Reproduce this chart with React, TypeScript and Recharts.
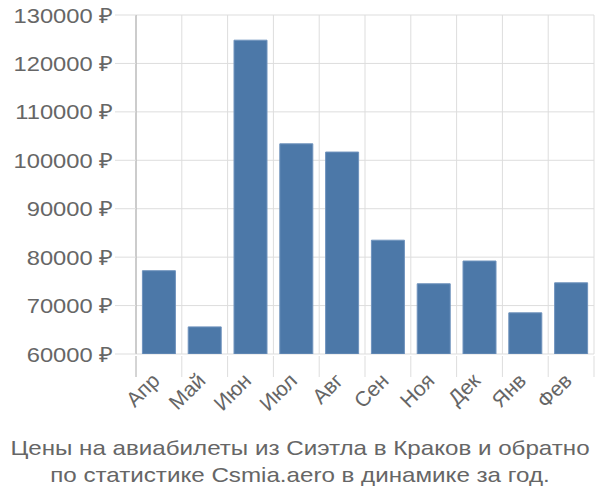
import { BarChart, Bar, XAxis, YAxis, CartesianGrid } from 'recharts';

// month labels along the bottom
const MONTHS = ['Апр', 'Май', 'Июн', 'Июл', 'Авг', 'Сен', 'Ноя', 'Дек', 'Янв', 'Фев'];
// average ticket price, rubles
const PRICES = [77200, 65600, 124800, 103400, 101700, 83500, 74500, 79200, 68500, 74700];
const Y_TICKS = [60000, 70000, 80000, 90000, 100000, 110000, 120000, 130000];

const DATA = MONTHS.map((m, i) => ({ month: m, price: PRICES[i] }));

const TEXT = '#666';
const GRID = '#ddd';
const AXIS = '#aaa';
const FONT = '"Liberation Sans", Arial, sans-serif';

const PLOT_TOP = 15;

function MonthTick(props: any) {
  const { x, y, payload, index } = props;
  const half = payload.offset ?? 0;
  const left = x - half;
  const right = x + half;
  const ax = x + 2;
  const ay = y + 18;
  return (
    <g>
      <line x1={left} x2={left} y1={y - 8} y2={y + 13} stroke={index === 0 ? AXIS : GRID} />
      {index === MONTHS.length - 1 && (
        <line x1={right} x2={right} y1={y - 8} y2={y + 13} stroke={GRID} />
      )}
      <text
        x={ax}
        y={ay}
        transform={`rotate(-45, ${ax}, ${ay})`}
        textAnchor="end"
        fill={TEXT}
        fontSize={21}
        fontFamily={FONT}
      >
        {payload.value}
      </text>
    </g>
  );
}

function PriceTick(props: any) {
  const { x, y, payload } = props;
  return (
    <text
      transform={`translate(${x}, ${y}) scale(1.13, 1)`}
      textAnchor="end"
      dy="0.36em"
      fill={TEXT}
      fontSize={21}
      fontFamily={FONT}
    >
      {`${payload.value} ₽`}
    </text>
  );
}

export default function App() {
  return (
    <div style={{ position: 'absolute', top: 0, left: 0, width: 600, height: 500, background: '#fff' }}>
      <BarChart
        width={600}
        height={420}
        data={DATA}
        margin={{ top: PLOT_TOP, right: 6, left: 0, bottom: 0 }}
        barCategoryGap="14%"
      >
        <CartesianGrid
          stroke={GRID}
          verticalCoordinatesGenerator={({ offset }: any) =>
            MONTHS.map((_, i) => offset.left + (offset.width * i) / MONTHS.length).concat(offset.left + offset.width)
          }
        />
        <XAxis
          dataKey="month"
          height={66}
          axisLine={false}
          tickLine={false}
          tickSize={8}
          tick={<MonthTick />}
          interval={0}
        />
        <YAxis
          width={136}
          domain={[60000, 130000]}
          ticks={Y_TICKS}
          allowDataOverflow
          axisLine={{ stroke: AXIS }}
          tickLine={{ stroke: GRID }}
          tickSize={21}
          tickMargin={2}
          tick={<PriceTick />}
        />
        <Bar dataKey="price" fill="#4c78a8" stroke="#6f93bd" strokeWidth={1} isAnimationActive={false} />
      </BarChart>
      <div
        style={{
          position: 'absolute',
          top: 434,
          left: 0,
          width: 600,
          textAlign: 'center',
          color: TEXT,
          fontFamily: FONT,
          fontSize: 21,
          lineHeight: '27px',
          transform: 'scaleX(1.15)',
          transformOrigin: '300px 0',
        }}
      >
        Цены на авиабилеты из Сиэтла в Краков и обратно
        <br />
        по статистике Csmia.aero в динамике за год.
      </div>
    </div>
  );
}
